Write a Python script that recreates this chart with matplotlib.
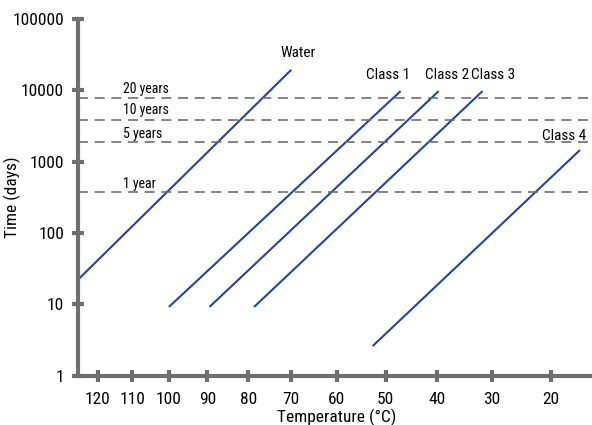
import matplotlib
matplotlib.use('Agg')
import matplotlib.pyplot as plt
import numpy as np

plt.rcParams['font.family'] = ['Roboto Condensed', 'Liberation Sans Narrow', 'DejaVu Sans']

# data (temperature in C, time in days)
water_temp = [126, 70]
water_days = [22, 19500]
class1_temp = [100, 47]
class1_days = [9.2, 9800]
class2_temp = [89.5, 39.7]
class2_days = [9.2, 9800]
class3_temp = [78.6, 31.7]
class3_days = [9.2, 9800]
class4_temp = [52.6, 15.3]
class4_days = [2.6, 1460]

year_labels = ['20 years', '10 years', '5 years', '1 year']
year_days = [7800, 3850, 1900, 375]

temp_ticks = [120, 110, 100, 90, 80, 70, 60, 50, 40, 30, 20]
day_ticks = [1, 10, 100, 1000, 10000, 100000]


def inv(t):
    # arrhenius axis: 1000/K
    return 1000.0 / (np.asarray(t, dtype=float) + 273.15)


line_col = '#26439b'
axis_col = '#6f6f6f'

fig = plt.figure(figsize=(5.92, 4.25), dpi=100)
ax = fig.add_axes([0.1318, 0.116, 0.8682, 0.839])

for t, d in [(water_temp, water_days), (class1_temp, class1_days),
             (class2_temp, class2_days), (class3_temp, class3_days),
             (class4_temp, class4_days)]:
    ax.plot(inv(t), d, color=line_col, lw=1.5, solid_capstyle='butt')

for d in year_days:
    ax.axhline(d, color=axis_col, lw=1.2, ls=(0, (6, 4)))

ax.set_yscale('log')
ax.set_ylim(1, 100000)
ax.set_xlim(inv(125.9), inv(13.4))

ax.set_yticks(day_ticks)
ax.set_yticklabels([str(v) for v in day_ticks])
ax.yaxis.set_minor_locator(matplotlib.ticker.NullLocator())
ax.set_xticks(inv(temp_ticks))
ax.set_xticklabels([str(v) for v in temp_ticks])

for s in ['top', 'right']:
    ax.spines[s].set_visible(False)
for s in ['left', 'bottom']:
    ax.spines[s].set_color(axis_col)
    ax.spines[s].set_linewidth(3)
ax.tick_params(axis='both', direction='inout', length=8, width=3,
               color=axis_col, labelsize=12.5, labelcolor='black')
ax.tick_params(axis='x', pad=8)
ax.tick_params(axis='y', pad=6)

ax.set_xlabel('Temperature (°C)', fontsize=12.5)
ax.xaxis.set_label_coords(0.504, -0.094)
ax.set_ylabel('Time (days)', fontsize=12.5)
ax.yaxis.set_label_coords(-0.11, 0.5)

# line labels
ax.text(inv(68.5), 33000, 'Water', fontsize=11, ha='center', va='center')
ax.text(inv(49.4), 16400, 'Class 1', fontsize=11, ha='center', va='center')
ax.text(inv(38.2), 16400, 'Class 2', fontsize=11, ha='center', va='center')
ax.text(inv(29.8), 16400, 'Class 3', fontsize=11, ha='center', va='center')
ax.text(inv(17.8), 2300, 'Class 4', fontsize=11, ha='center', va='center')

year_label_y = [10600, 5300, 2455, 490]
for lab, y in zip(year_labels, year_label_y):
    ax.text(inv(112.6), y, lab, fontsize=10, ha='left', va='center')

fig.savefig('out.png', dpi=100)
